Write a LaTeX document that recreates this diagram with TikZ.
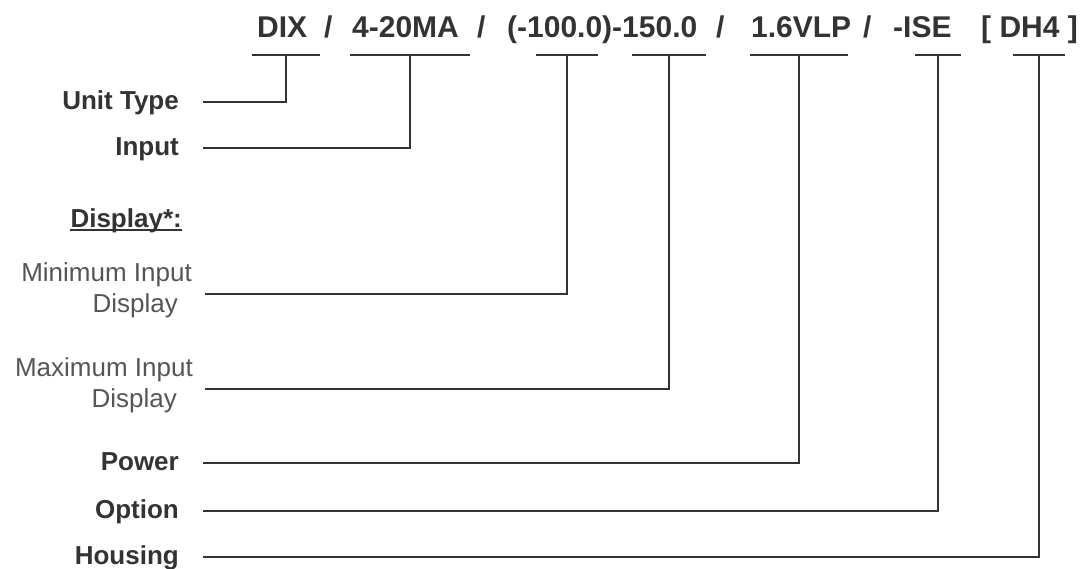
\documentclass[tikz,border=0pt]{standalone}
\usepackage{fontspec}
\setmainfont{Liberation Sans}
\definecolor{ink}{HTML}{333333}
\definecolor{soft}{HTML}{555555}
\tikzset{
  codetxt/.style={anchor=base west, inner sep=0pt, text=ink, font=\fontsize{30}{36}\selectfont\bfseries},
  lbl/.style={anchor=east, inner sep=0pt, text height=18.6pt, text depth=0pt, text=ink, font=\fontsize{26}{31}\selectfont\bfseries},
  sublbl/.style={anchor=east, inner sep=0pt, align=right, text=soft, font=\fontsize{26}{31}\selectfont},
  wire/.style={draw=ink, line width=1.8pt},
}

\begin{document}
\begin{tikzpicture}[x=1pt, y=-1pt]
  \useasboundingbox (0,0) rectangle (1082,568);
  \foreach \x/\s [count=\i] in {257/DIX, 324/{/}, 352/4-20MA, 477/{/}, 507/{(-100.0)-150.0},
      716/{/}, 751/1.6VLP, 863/{/}, 893/-ISE, 981/{[ DH4 ]}}
    { \node[codetxt] (c\i) at (\x,37) {\s}; }
  \foreach \n/\x/\w in {ut/286/34, inp/410/60, mn/567/31, mx/669/37, pw/799/49, op/938/23, hs/1039/26}
    { \coordinate (b\n) at (\x,55);
      \draw[wire] ([xshift=-\w pt]b\n) -- ([xshift=\w pt]b\n); }
  \foreach \n/\y/\t in {ut/102/Unit Type, inp/148/Input, pw/463/Power, op/511/Option, hs/557/Housing}
    { \node[lbl] (\n) at (179,\y-2) {\t};
      \draw[wire] ([xshift=24pt,yshift=-2pt]\n.east) -| (b\n); }
  \node[lbl, anchor=base east] (dsp) at (182,227) {Display*:};
  \draw[draw=ink, line width=1.4pt] ([yshift=-3pt]dsp.base west) -- ([yshift=-3pt]dsp.base east);
  \node[sublbl] (mn) at (192,290) {Minimum Input\\Display\hspace*{14pt}};
  \node[sublbl] (mx) at (193,385) {Maximum Input\\Display\hspace*{16pt}};
  \draw[wire] ([xshift=13pt,yshift=-4pt]mn.east) -| (bmn);
  \draw[wire] ([xshift=12pt,yshift=-4pt]mx.east) -| (bmx);
\end{tikzpicture}
\end{document}
